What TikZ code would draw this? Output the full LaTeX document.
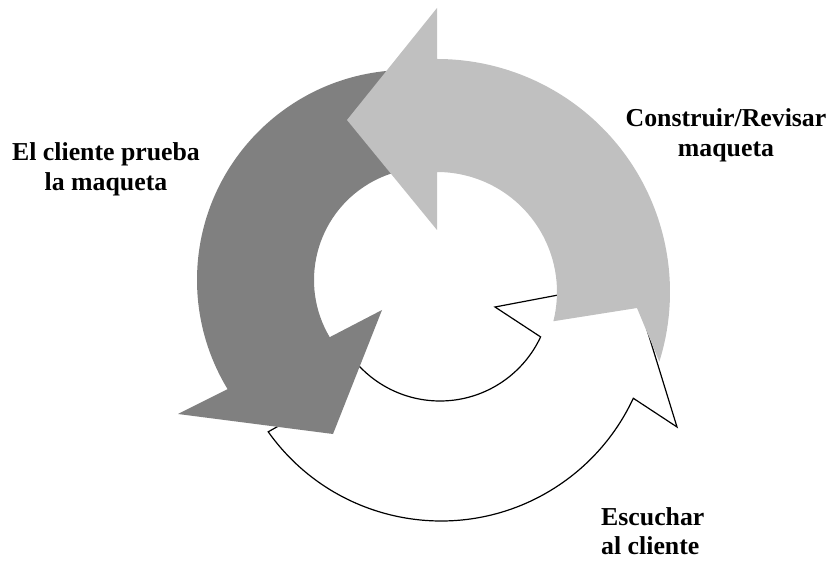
\documentclass[tikz,border=0pt]{standalone}
\usepackage{fontspec}
\setmainfont{Liberation Serif}
\definecolor{grisclaro}{RGB}{192,192,192}
\definecolor{grisoscuro}{RGB}{128,128,128}

\begin{document}
\begin{tikzpicture}[x=1pt, y=1pt,
      clara/.style={fill=grisclaro},
      oscura/.style={fill=grisoscuro},
      blanca/.style={fill=white, draw=black, line width=1.2pt},
      etiqueta/.style={font=\fontsize{25.8}{30}\selectfont\bfseries, align=center,
          inner sep=0pt}
    ]
    \useasboundingbox (0,0) rectangle (832,560);
    \coordinate (cC) at (437,268);
    \coordinate (cOe) at (407,280);
    \coordinate (cOi) at (426,280);
    \coordinate (cBe) at (441,251);
    \coordinate (cBi) at (440,270);
    \filldraw[blanca] ([shift={(cBe)}]215.4:212) arc[start angle=215.4, end angle=335.1, radius=212]
      -- (677,133) -- (632,279) -- (495,253)
      -- ([shift={(cBi)}]335:111) arc[start angle=335, end angle=222, radius=111]
      -- (300,146) -- cycle;
    \fill[oscura] ([shift={(cOe)}]88:210) arc[start angle=88, end angle=211.3, radius=210]
      -- (178,146) -- (333,126) -- (382,250)
      -- ([shift={(cOi)}]210.7:112) arc[start angle=210.7, end angle=90, radius=112]
      -- (376,457) -- cycle;
    \fill[clara] ([shift={(cC)}]-17.4:233) arc[start angle=-17.4, end angle=90, radius=233]
      -- (437,552) -- (347,440) -- (437,330)
      -- ([shift={(cC)}]90:120) arc[start angle=90, end angle=-14.1, radius=120]
      -- (637,252) -- cycle;
    \node[etiqueta] (prueba) at (106,391) {El cliente prueba\\la maqueta};
    \node[etiqueta] (construir) at (726,425) {Construir/Revisar\\maqueta};
    \node[etiqueta, align=left, anchor=north west,
          font=\fontsize{25.8}{29}\selectfont\bfseries] (escuchar) at (601,53) {Escuchar\\al cliente};
  \end{tikzpicture}
\end{document}
